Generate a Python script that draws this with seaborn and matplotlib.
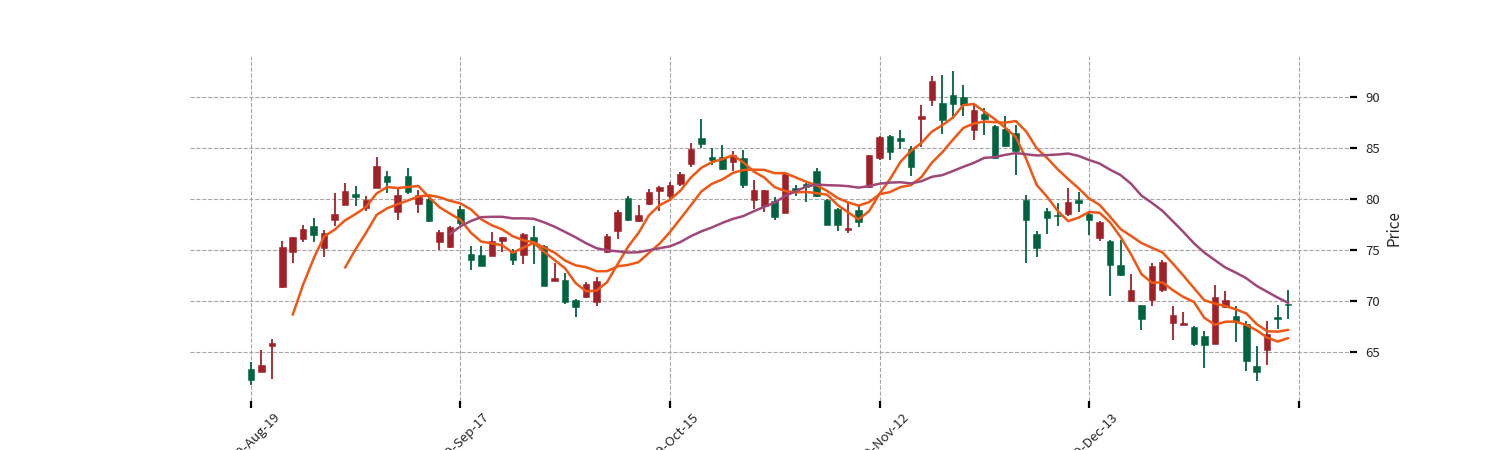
import numpy as np
import pandas as pd
import matplotlib
matplotlib.use("Agg")
import matplotlib.pyplot as plt
import seaborn as sns

# ---- data ----
opens = [63.33, 63.0, 65.56, 71.34, 74.77, 76.11, 77.32, 75.16, 77.97, 79.44,
         80.52, 79.12, 81.05, 82.29, 78.69, 82.22, 79.51, 80.0, 75.75, 75.26,
         79.05, 74.64, 74.54, 74.38, 75.92, 74.77, 74.51, 76.31, 75.36, 71.99,
         72.09, 70.07, 70.39, 69.87, 74.8, 76.83, 80.1, 77.81, 79.54, 80.75,
         80.33, 81.5, 83.43, 86.01, 84.12, 84.12, 83.59, 84.02, 79.87, 79.35,
         79.77, 78.63, 81.08, 81.5, 82.71, 79.93, 79.05, 76.93, 78.89, 81.18,
         84.02, 86.21, 86.01, 84.93, 87.88, 89.74, 89.41, 90.22, 90.0, 86.8,
         88.37, 87.19, 86.86, 86.47, 79.93, 76.6, 78.86, 78.46, 78.56, 79.87,
         78.56, 76.18, 75.92, 73.56, 69.97, 69.64, 70.07, 71.11, 67.84, 67.68,
         67.42, 66.6, 65.82, 69.41, 68.58, 67.75, 63.66, 65.23, 68.43, 69.71]
highs = [64.0, 65.23, 66.27, 75.85, 76.24, 77.48, 78.1, 76.93, 80.59, 81.57,
         81.24, 80.26, 84.08, 82.71, 81.08, 83.04, 80.92, 80.42, 76.99, 77.32,
         79.28, 75.36, 75.36, 76.73, 76.3, 75.1, 76.67, 77.39, 75.52, 73.73,
         72.75, 70.2, 71.83, 72.35, 76.6, 78.95, 80.26, 79.38, 80.98, 81.24,
         81.63, 82.7, 85.49, 87.84, 85.0, 85.26, 84.67, 84.77, 81.83, 80.92,
         80.2, 82.61, 81.41, 81.6, 83.04, 80.0, 79.1, 79.6, 79.38, 84.35,
         86.21, 86.3, 86.73, 85.23, 89.25, 92.09, 92.19, 92.6, 91.14, 89.25,
         88.92, 87.28, 88.17, 87.29, 80.42, 76.83, 79.1, 79.6, 81.08, 80.65,
         78.6, 77.81, 76.0, 75.95, 72.65, 69.64, 73.73, 74.05, 69.48, 68.89,
         67.52, 67.03, 71.6, 70.95, 69.48, 68.01, 65.62, 68.07, 69.64, 71.08]
lows = [61.8, 63.0, 62.35, 71.3, 73.73, 75.78, 75.78, 74.31, 77.39, 79.44,
        79.35, 78.79, 81.05, 80.59, 77.97, 80.49, 78.63, 77.75, 75.03, 75.2,
        77.48, 73.07, 73.4, 74.38, 74.77, 73.56, 73.66, 73.66, 71.44, 71.99,
        69.74, 68.43, 70.29, 69.54, 74.7, 76.08, 77.88, 77.75, 79.44, 78.79,
        79.77, 81.3, 83.14, 85.0, 83.33, 82.81, 82.71, 81.08, 79.05, 78.73,
        77.97, 78.63, 80.26, 79.71, 80.2, 77.42, 76.83, 76.67, 77.25, 81.08,
        83.79, 83.79, 84.9, 82.29, 85.1, 89.15, 86.37, 87.84, 88.17, 85.82,
        86.31, 83.9, 85.1, 82.38, 73.73, 74.31, 76.6, 77.39, 78.3, 78.69,
        76.5, 75.92, 70.52, 72.42, 69.97, 67.19, 69.54, 70.85, 66.21, 67.6,
        65.62, 63.4, 65.82, 69.31, 65.95, 63.1, 62.19, 63.76, 67.25, 68.24]
closes = [62.22, 63.7, 65.85, 75.26, 76.24, 77.09, 76.44, 76.67, 78.56, 80.82,
          80.16, 79.93, 83.27, 81.7, 80.36, 80.65, 80.42, 77.84, 76.73, 77.22,
          77.65, 74.05, 73.46, 75.92, 76.24, 73.99, 76.57, 75.75, 71.5, 72.25,
          69.9, 69.38, 71.7, 71.93, 76.34, 78.69, 77.97, 78.46, 80.65, 81.14,
          81.41, 82.45, 84.93, 85.42, 83.86, 82.94, 84.35, 81.41, 80.92, 80.92,
          78.2, 82.48, 80.75, 81.18, 80.26, 77.48, 77.42, 77.16, 77.71, 84.28,
          86.05, 84.57, 85.65, 83.1, 88.17, 91.6, 87.71, 89.35, 89.25, 88.69,
          87.88, 84.02, 85.16, 84.67, 77.9, 75.19, 78.14, 78.3, 79.67, 79.6,
          77.97, 77.71, 73.56, 72.58, 71.11, 68.24, 73.46, 73.79, 68.66, 67.84,
          65.82, 65.65, 70.39, 70.13, 67.93, 64.15, 63.01, 66.8, 68.24, 69.58]
holidays = ["2019-09-02", "2019-11-28", "2019-11-29", "2019-12-02"]
start_date = "2019-08-19"
ma_windows = [5, 10, 20]
ma_colors = ["#ef5714", "#ef5714", "#9f4878"]
up_color = "#a02128"
down_color = "#006340"

dates = pd.date_range(start_date, periods=len(closes),
                      freq=pd.offsets.CustomBusinessDay(holidays=holidays))
df = pd.DataFrame({"Date": dates, "Open": opens, "High": highs,
                   "Low": lows, "Close": closes})
df["idx"] = np.arange(len(df))

# ---- style ----
sns.set_theme(style="whitegrid", rc={
    "grid.linestyle": "--", "grid.color": "#a6a6a6", "grid.linewidth": 0.8,
})
plt.rcParams["font.family"] = ["Noto Sans CJK SC", "DejaVu Sans"]
plt.rcParams["axes.unicode_minus"] = False

fig = plt.figure(figsize=(15, 4.5), dpi=100)
ax = fig.add_axes([0.1267, 0.109, 0.7733, 0.767])

colors = np.where(df["Close"] >= df["Open"], up_color, down_color)
# wicks
ax.vlines(df["idx"], df["Low"], df["High"], colors=colors, linewidth=1.3, zorder=2)
# bodies
body_h = (df["Close"] - df["Open"]).abs().clip(lower=0.08)
ax.bar(df["idx"], body_h, bottom=np.minimum(df["Open"], df["Close"]),
       width=0.62, color=colors, edgecolor=colors, linewidth=0.4, zorder=3)

# moving averages
for w, c in zip(ma_windows, ma_colors):
    ma = df["Close"].rolling(w).mean()
    sub = pd.DataFrame({"idx": df["idx"], "ma": ma}).dropna()
    sns.lineplot(data=sub, x="idx", y="ma", ax=ax, color=c, linewidth=1.8,
                 zorder=4, legend=False)

# axes cosmetics
ax.set_xlim(-5.8, 104.9)
ax.set_ylim(60.2, 94.05)
for s in ax.spines.values():
    s.set_visible(False)
ax.set_facecolor("white")
ax.yaxis.tick_right()
ax.yaxis.set_label_position("right")
ax.set_yticks([65, 70, 75, 80, 85, 90])
ax.set_yticklabels(["65", "70", "75", "80", "85", "90"])
xt = [0, 20, 40, 60, 80, 100]
xl = [df["Date"][i].strftime("%Y-%b-%d") if i < len(df) else "" for i in xt]
ax.set_xticks(xt)
ax.set_xticklabels(xl, rotation=45, ha="center")
ax.tick_params(axis="both", which="major", direction="out", length=5, width=1.6,
               color="black", labelsize=9.5, bottom=True, right=True, left=False)
ax.tick_params(axis="x", pad=2)
ax.tick_params(axis="y", pad=6)
ax.set_xlabel("")
ax.set_ylabel("Price", fontsize=11, labelpad=4)
ax.grid(True, axis="both")

fig.savefig("out.png", dpi=100)
